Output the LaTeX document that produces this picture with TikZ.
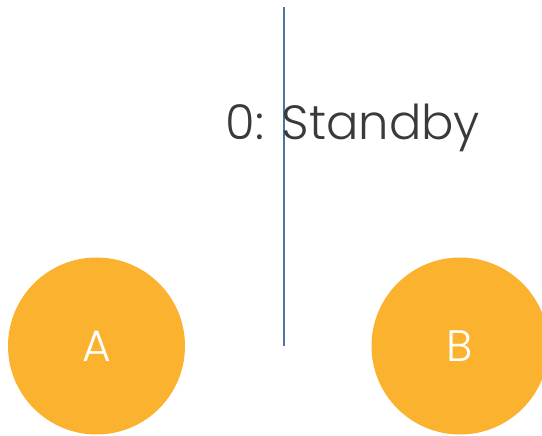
\documentclass[tikz,border=0pt]{standalone}
\usepackage{fontspec}
\setmainfont{Poppins Light}
\definecolor{circfill}{HTML}{FBB22F}
\definecolor{linecol}{HTML}{4A76A6}
\definecolor{txtcol}{HTML}{3A3A3A}
\begin{document}
\begin{tikzpicture}[x=1pt,y=1pt,
  ball/.style={circle,fill=circfill,minimum size=177pt,inner sep=0pt,text=white,font=\fontsize{44}{50}\selectfont},
  lbl/.style={text=txtcol,font=\fontsize{48}{54}\selectfont,inner sep=0pt}]
\useasboundingbox (0,0) rectangle (542,436);
\begin{scope}
\clip (0,0) rectangle (542,436);
\node[ball] (A) at (96.5,90) {A};
\node[ball] (B) at (460,90) {B};
\end{scope}
\coordinate (top) at (284,429);
\coordinate (bot) at (284,90);
\draw[linecol,line width=1.8pt] (top) -- (bot);
\node[lbl,anchor=base] (S) at (353,296) {0: Standby};
\end{tikzpicture}
\end{document}
